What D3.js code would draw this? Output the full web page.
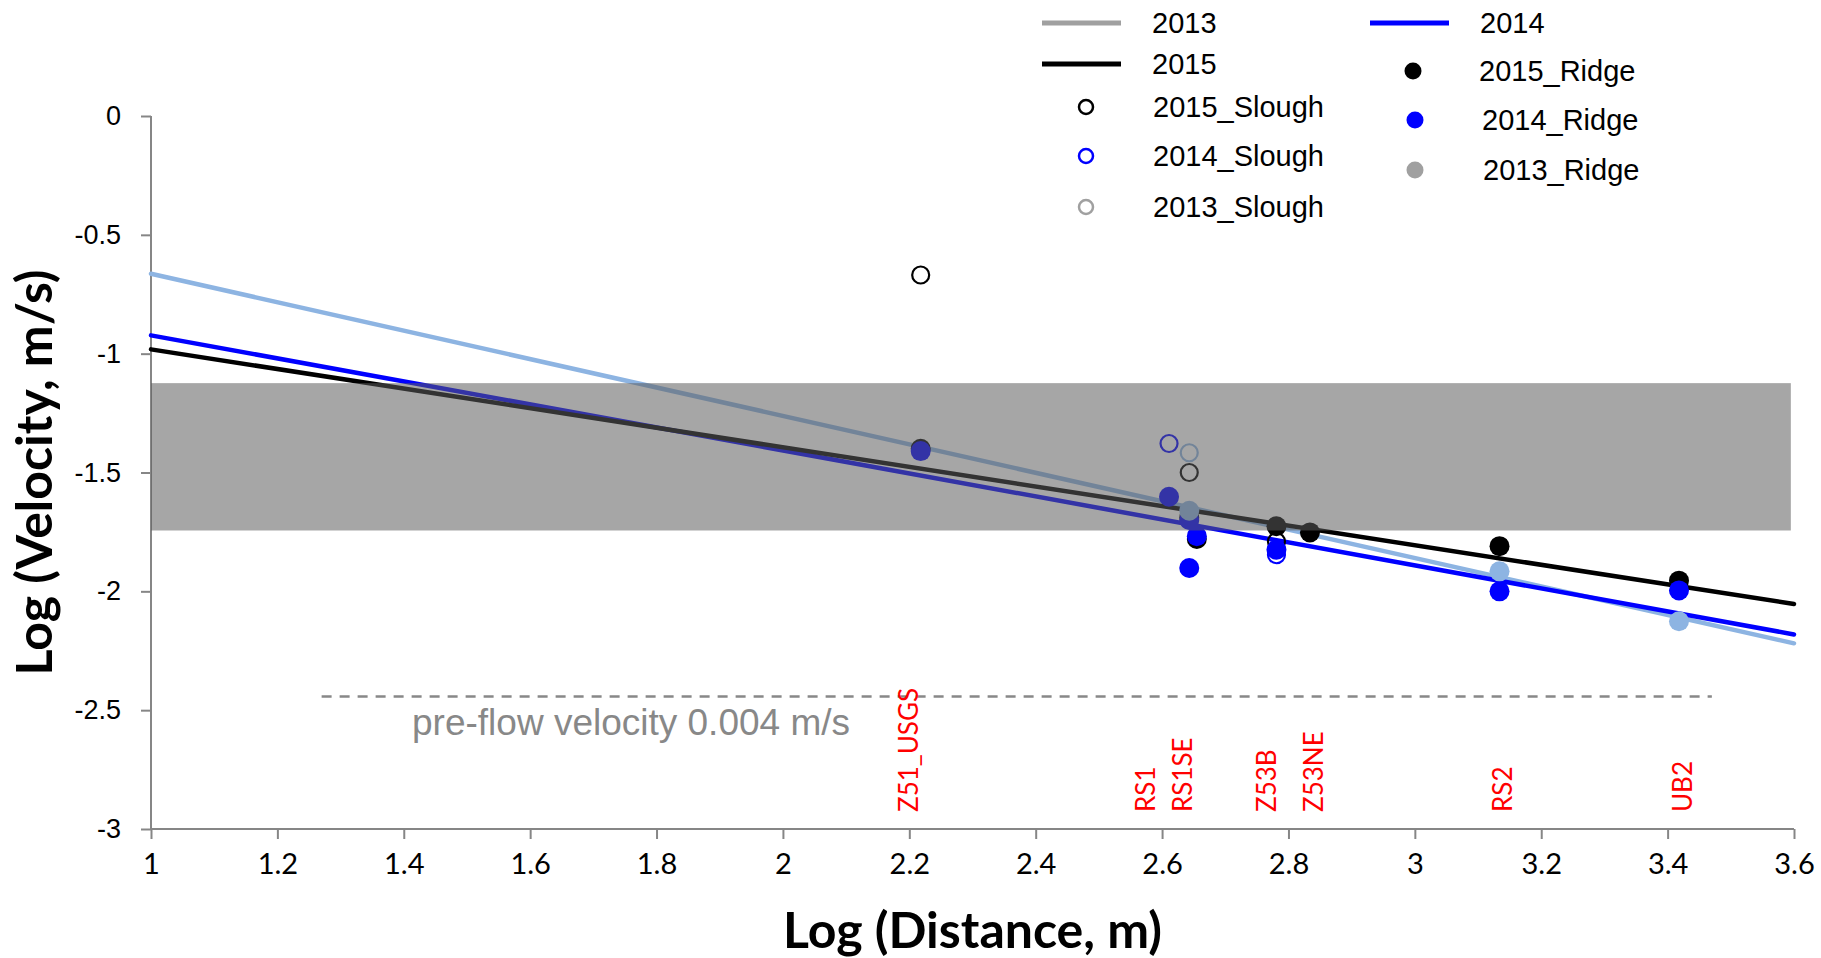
<!DOCTYPE html>
<html>
<head>
<meta charset="utf-8">
<script src="https://cdn.jsdelivr.net/npm/d3@7"></script>
<style>
  body { margin: 0; background: #fff; }
  svg { display: block; }
</style>
</head>
<body>
<svg id="graph"></svg>
<script>
var width = 1821;
var height = 958;

// ---- data ----
var xTicks = [1, 1.2, 1.4, 1.6, 1.8, 2, 2.2, 2.4, 2.6, 2.8, 3, 3.2, 3.4, 3.6];
var yTicks = [0, -0.5, -1, -1.5, -2, -2.5, -3];

// fitted lines y = a + b*x
var lineYears = ["2013", "2014", "2015"];
var lineA = [-0.066, -0.439, -0.570];
var lineB = [-0.598, -0.484, -0.412];

var slough2015 = [[2.218, -0.669], [2.643, -1.50], [2.781, -1.79]];
var slough2014 = [[2.611, -1.378], [2.781, -1.846]];
var slough2013 = [[2.643, -1.417]];
var ridge2015 = [[2.218, -1.40], [2.643, -1.69], [2.655, -1.78], [2.781, -1.726], [2.834, -1.752], [3.134, -1.81], [3.418, -1.955]];
var ridge2014 = [[2.218, -1.41], [2.611, -1.602], [2.643, -1.70], [2.655, -1.768], [2.643, -1.902], [2.781, -1.825], [3.134, -2.0], [3.418, -1.996]];
var ridge2013 = [[2.643, -1.661], [3.134, -1.916], [3.418, -2.126]];

var stations = ["Z51_USGS", "RS1", "RS1SE", "Z53B", "Z53NE", "RS2", "UB2"];
var stationX = [2.20, 2.575, 2.633, 2.766, 2.840, 3.140, 3.424];

var bandRange = [-1.124, -1.744];
var bandX = [1, 3.595];
var preFlow = -2.442;
var preFlowX = [1.27, 3.47];

var svg = d3.select("#graph").attr("width", width).attr("height", height);

var x = d3.scaleLinear().domain([1, 3.6]).range([151, 1794]);
var y = d3.scaleLinear().domain([-3, 0]).range([829, 116]);

var lightBlue = "#8db4e2";
var colors = {"2013": lightBlue, "2014": "#0000ff", "2015": "#000000"};
var axisGrey = "#868686";
var arial = "'Liberation Sans', Arial, sans-serif";
var calibri = "Lato, Carlito, Calibri, sans-serif";

// axes (plain hyphen for negatives, like the original)
var yAxis = svg.append("g").attr("transform", "translate(" + x(1) + ",0)")
  .call(d3.axisLeft(y).tickValues(yTicks).tickSize(10).tickPadding(20).tickFormat(function(d) { return String(d); }));
var xAxis = svg.append("g").attr("transform", "translate(0," + y(-3) + ")")
  .call(d3.axisBottom(x).tickValues(xTicks).tickSize(10).tickPadding(14).tickFormat(function(d) { return String(d); }));

[yAxis, xAxis].forEach(function(a) {
  a.selectAll(".domain").attr("stroke", axisGrey).attr("stroke-width", 2);
  a.selectAll(".tick line").attr("stroke", axisGrey).attr("stroke-width", 2);
});
yAxis.selectAll(".domain").attr("d", "M0," + y(0) + "V" + y(-3));
xAxis.selectAll(".domain").attr("d", "M" + x(1) + ",0H" + x(3.6));
yAxis.selectAll("text").attr("font-family", arial).attr("font-size", 27).attr("fill", "#000");
xAxis.selectAll("text").attr("font-family", calibri).attr("font-size", 29).attr("fill", "#000");

// regression lines
var plot = svg.append("g");
lineYears.forEach(function(yr, i) {
  plot.append("line")
    .attr("x1", x(1)).attr("y1", y(lineA[i] + lineB[i] * 1))
    .attr("x2", x(3.6)).attr("y2", y(lineA[i] + lineB[i] * 3.6))
    .attr("stroke", colors[yr]).attr("stroke-width", 4.5).attr("stroke-linecap", "round");
});

function hollow(data, col) {
  plot.selectAll(null).data(data).enter().append("circle")
    .attr("cx", function(d) { return x(d[0]); })
    .attr("cy", function(d) { return y(d[1]); })
    .attr("r", 8.5).attr("fill", "none").attr("stroke", col).attr("stroke-width", 2.2);
}
function filled(data, col) {
  plot.selectAll(null).data(data).enter().append("circle")
    .attr("cx", function(d) { return x(d[0]); })
    .attr("cy", function(d) { return y(d[1]); })
    .attr("r", 10).attr("fill", col);
}
hollow(slough2015, colors["2015"]);
hollow(slough2014, colors["2014"]);
hollow(slough2013, lightBlue);
filled(ridge2015, colors["2015"]);
filled(ridge2014, colors["2014"]);
filled(ridge2013, lightBlue);

// grey band drawn over the data (semi transparent)
svg.append("rect")
  .attr("x", x(bandX[0])).attr("width", x(bandX[1]) - x(bandX[0]))
  .attr("y", y(bandRange[0])).attr("height", y(bandRange[1]) - y(bandRange[0]))
  .attr("fill", "rgb(93,93,93)").attr("fill-opacity", 0.55);

// pre-flow velocity
svg.append("line")
  .attr("x1", x(preFlowX[0])).attr("x2", x(preFlowX[1]))
  .attr("y1", y(preFlow)).attr("y2", y(preFlow))
  .attr("stroke", "#888").attr("stroke-width", 2.5).attr("stroke-dasharray", "10,8");
svg.append("text").attr("x", 412).attr("y", 735)
  .attr("font-family", arial).attr("font-size", 37).attr("fill", "#888")
  .text("pre-flow velocity 0.004 m/s");

// station names
svg.selectAll(".station").data(stations).enter().append("text")
  .attr("class", "station")
  .attr("transform", function(d, i) { return "translate(" + x(stationX[i]) + ",812) rotate(-90)"; })
  .attr("dy", "0.35em")
  .attr("font-family", calibri).attr("font-size", 26).attr("fill", "#ff0000")
  .text(function(d) { return d; });

// axis titles
svg.append("text").attr("x", x(2.3)).attr("y", 948).attr("text-anchor", "middle")
  .attr("font-family", calibri).attr("font-weight", "bold").attr("font-size", 50)
  .text("Log (Distance, m)");
svg.append("text").attr("transform", "translate(52," + y(-1.5) + ") rotate(-90)").attr("text-anchor", "middle")
  .attr("font-family", calibri).attr("font-weight", "bold").attr("font-size", 50)
  .text("Log (Velocity, m/s)");

// legend
var legendLines = [["2013", "#a0a0a0", 1042, 23], ["2015", "#000000", 1042, 64], ["2014", "#0000ff", 1370, 23]];
var legendMarks = [
  ["2015_Slough", "#000000", false, 1086, 107, 1153],
  ["2014_Slough", "#0000ff", false, 1086, 156, 1153],
  ["2013_Slough", "#a0a0a0", false, 1086, 207, 1153],
  ["2015_Ridge", "#000000", true, 1413, 71, 1479],
  ["2014_Ridge", "#0000ff", true, 1415, 120, 1482],
  ["2013_Ridge", "#a0a0a0", true, 1415, 170, 1483]
];
var legend = svg.append("g").attr("font-family", arial).attr("font-size", 29);
legendLines.forEach(function(l) {
  legend.append("line").attr("x1", l[2]).attr("x2", l[2] + 79).attr("y1", l[3]).attr("y2", l[3])
    .attr("stroke", l[1]).attr("stroke-width", 5);
  legend.append("text").attr("x", l[2] + 110).attr("y", l[3]).attr("dy", "0.35em").text(l[0]);
});
legendMarks.forEach(function(m) {
  var c = legend.append("circle").attr("cx", m[3]).attr("cy", m[4]);
  if (m[2]) c.attr("r", 8.5).attr("fill", m[1]);
  else c.attr("r", 7).attr("fill", "none").attr("stroke", m[1]).attr("stroke-width", 2.5);
  legend.append("text").attr("x", m[5]).attr("y", m[4]).attr("dy", "0.35em").text(m[0]);
});
</script>
</body>
</html>
